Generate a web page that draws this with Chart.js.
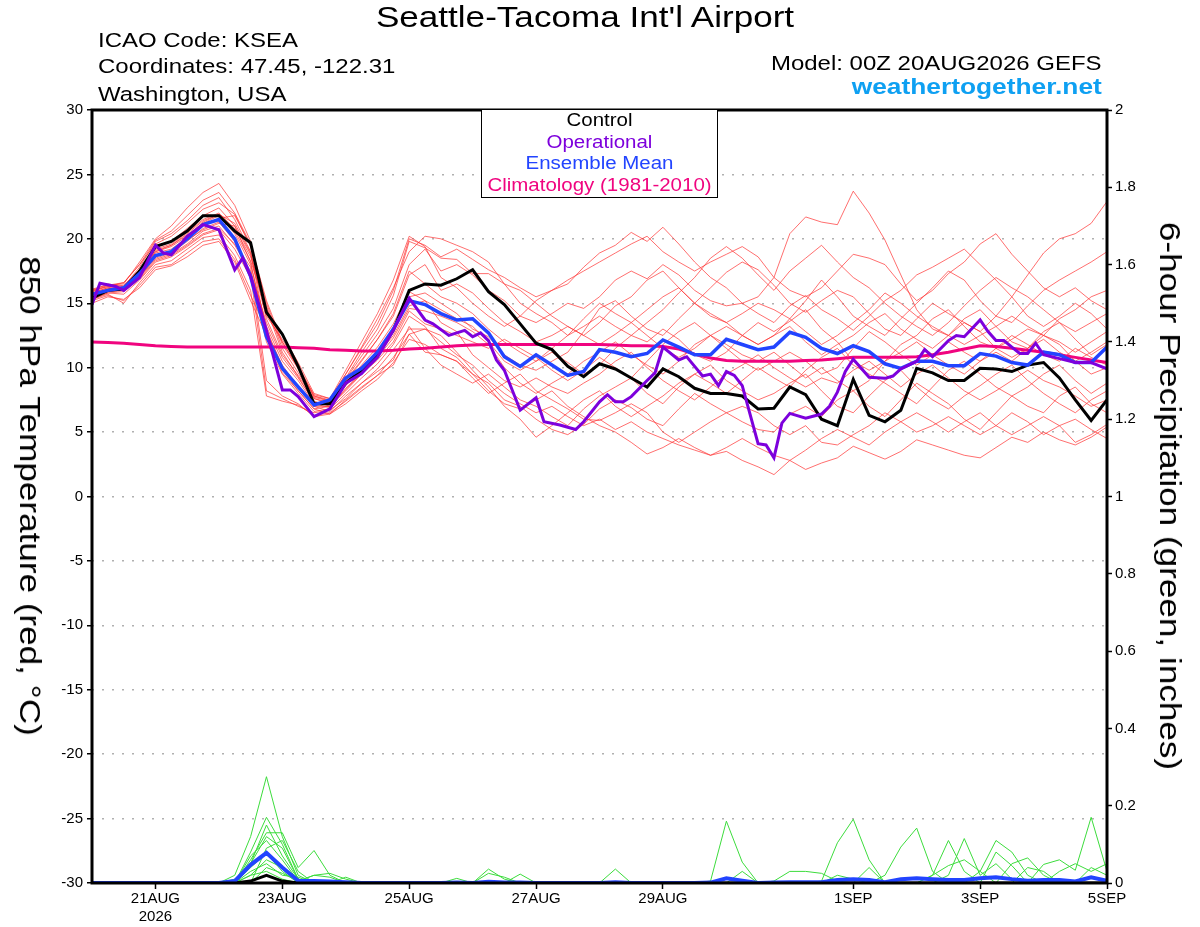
<!DOCTYPE html>
<html>
<head>
<meta charset="utf-8">
<title>Seattle-Tacoma Int'l Airport - GEFS 850 hPa Temperature</title>
<script src="https://cdn.jsdelivr.net/npm/chart.js@4.4.1/dist/chart.umd.min.js"></script>
<style>
  body { margin: 0; background: #fff; }
  #wrap { position: relative; width: 1200px; height: 927px; font-family: "Liberation Sans", Arial, Helvetica, sans-serif; color: #000; }
  #chart { position: absolute; left: 0; top: 0; }
  .txt { position: absolute; white-space: nowrap; line-height: 1; }
  #title { left: 585px; top: 3px; font-size: 29px; transform: translateX(-50%) scaleX(1.21); }
  .hl { left: 98px; font-size: 20.5px; transform-origin: 0 0; transform: scaleX(1.17); }
  .hr { right: 98px; font-size: 20.5px; transform-origin: 100% 0; transform: scaleX(1.17); }
  #site { font-size: 22.5px; font-weight: bold; color: #0ea0f2; }
  #legend { position: absolute; left: 481px; top: 109px; width: 235px; height: 87px; border: 1.5px solid #000; background: #fff; text-align: center; font-size: 17.5px; line-height: 21.7px; }
  #legend div { transform: scaleX(1.17); }
  .axt { position: absolute; white-space: nowrap; line-height: 1; font-size: 30px; transform: translate(-50%, -50%) rotate(90deg) scaleX(1.17); }
</style>
</head>
<body>
<div id="wrap">
  <canvas id="chart" width="1200" height="927"></canvas>
  <div class="txt" id="title">Seattle-Tacoma Int'l Airport</div>
  <div class="txt hl" style="top:30px">ICAO Code: KSEA</div>
  <div class="txt hl" style="top:56px">Coordinates: 47.45, -122.31</div>
  <div class="txt hl" style="top:84px">Washington, USA</div>
  <div class="txt hr" style="top:53px">Model: 00Z 20AUG2026 GEFS</div>
  <div class="txt hr" id="site" style="top:76px">weathertogether.net</div>
  <div id="legend">
    <div style="color:#000">Control</div>
    <div style="color:#7d00dc">Operational</div>
    <div style="color:#2244ff">Ensemble Mean</div>
    <div style="color:#f0047f">Climatology (1981-2010)</div>
  </div>
  <div class="axt" style="left:30px; top:496px">850 hPa Temperature (red, °C)</div>
  <div class="axt" style="left:1170px; top:496px">6-hour Precipitation (green, inches)</div>
</div>
<script>
// forecast hours (6-hourly, from 00Z 20AUG2026)
const hours = [0, 6, 12, 18, 24, 30, 36, 42, 48, 54,
  60, 66, 72, 78, 84, 90, 96, 102, 108, 114,
  120, 126, 132, 138, 144, 150, 156, 162, 168, 174,
  180, 186, 192, 198, 204, 210, 216, 222, 228, 234,
  240, 246, 252, 258, 264, 270, 276, 282, 288, 294,
  300, 306, 312, 318, 324, 330, 336, 342, 348, 354,
  360, 366, 372, 378, 384];

const tickHours = [24, 72, 120, 168, 216, 288, 336, 384];
const tickLabels = [['21AUG', '2026'], '23AUG', '25AUG', '27AUG', '29AUG', '1SEP', '3SEP', '5SEP'];

// 850 hPa temperature, C
const ctrlTemp = [15.4, 16.0, 16.1, 17.5, 19.4, 19.8, 20.6, 21.8, 21.8, 20.6,
  19.7, 14.3, 12.6, 10.1, 7.2, 7.2, 8.8, 9.8, 11.0, 12.9,
  16.0, 16.5, 16.4, 16.9, 17.6, 15.9, 14.9, 13.4, 11.9, 11.4,
  10.1, 9.3, 10.3, 9.9, 9.2, 8.5, 9.9, 9.3, 8.4, 8.0,
  8.0, 7.8, 6.8, 6.85, 8.5, 7.9, 6.0, 5.5, 9.1, 6.3,
  5.8, 6.7, 9.95, 9.6, 9.0, 9.0, 9.95, 9.9, 9.7, 10.2,
  10.4, 9.2, 7.5, 5.9, 7.5];

const meanTemp = [15.7, 16.0, 16.2, 17.3, 18.7, 19.0, 20.0, 21.1, 21.5, 20.0,
  17.1, 12.4, 9.95, 8.5, 7.1, 7.5, 9.2, 9.95, 11.2, 13.0,
  15.2, 14.9, 14.2, 13.7, 13.8, 12.7, 10.85, 10.1, 11.0, 10.2,
  9.4, 9.7, 11.4, 11.2, 10.85, 11.1, 12.15, 11.6, 11.0, 11.0,
  12.2, 11.8, 11.4, 11.6, 12.75, 12.35, 11.5, 11.1, 11.7, 11.25,
  10.3, 9.95, 10.5, 10.5, 10.15, 10.15, 11.1, 10.9, 10.4, 10.2,
  11.2, 11.0, 10.4, 10.4, 11.6];

const climoTemp = [12.0, 11.95, 11.9, 11.8, 11.7, 11.65, 11.6, 11.6, 11.6, 11.6,
  11.6, 11.6, 11.6, 11.55, 11.5, 11.4, 11.35, 11.3, 11.3, 11.35,
  11.45, 11.5, 11.6, 11.7, 11.75, 11.8, 11.8, 11.8, 11.8, 11.8,
  11.8, 11.8, 11.8, 11.75, 11.7, 11.7, 11.65, 11.45, 11.05, 10.75,
  10.55, 10.5, 10.5, 10.5, 10.5, 10.55, 10.6, 10.7, 10.8, 10.8,
  10.8, 10.8, 10.85, 11.0, 11.2, 11.45, 11.7, 11.65, 11.5, 11.35,
  11.2, 11.0, 10.8, 10.6, 10.4];

// operational run has its own (3-hourly where it bends) hours
const opHours = [0, 3, 9, 12, 18, 24, 27, 30, 36, 42, 48, 54, 57, 60, 66, 72, 75, 78, 84, 90,
  96, 102, 105, 108, 114, 120, 126, 129, 135, 141, 144, 147, 150, 153, 156, 162, 168, 171, 177, 183,
  186, 192, 195, 198, 201, 204, 210, 213, 216, 222, 225, 228, 231, 234, 237, 240, 243, 246, 252, 255,
  258, 261, 264, 270, 276, 279, 282, 285, 288, 294, 300, 303, 306, 312, 315, 318, 324, 327, 330, 336,
  339, 342, 345, 348, 351, 354, 357, 360, 366, 372, 378, 384];
const opTemp = [14.9, 16.55, 16.3, 16.0, 17.0, 19.5, 18.9, 18.75, 20.2, 21.1, 20.7, 17.6, 18.5, 17.1, 12.9, 8.27, 8.27, 7.75, 6.2, 6.8,
  8.8, 9.55, 10.2, 10.8, 12.9, 15.4, 13.7, 13.4, 12.5, 12.9, 12.4, 12.7, 12.1, 10.6, 9.8, 6.7, 7.66, 5.8, 5.55, 5.2,
  5.8, 7.35, 7.9, 7.35, 7.35, 7.75, 9.0, 9.6, 11.6, 10.6, 10.85, 10.1, 9.35, 9.5, 8.6, 9.7, 9.4, 8.6, 4.1, 4.0,
  3.0, 5.7, 6.45, 6.07, 6.4, 7.0, 8.1, 9.7, 10.65, 9.25, 9.17, 9.35, 9.9, 10.5, 11.4, 10.85, 12.1, 12.5, 12.4, 13.7,
  12.8, 12.1, 12.1, 11.6, 11.1, 11.1, 11.9, 11.0, 10.7, 10.4, 10.4, 9.9];

// ensemble members
const mem01 = [15.8, 16.2, 16.4, 17.6, 19.2, 19.6, 20.5, 21.5, 22.0, 20.8, 18.6,
  14.8, 11.5, 9.6, 7.6, 7.3, 9.1, 10.9, 12.6, 14.6, 18.0, 19.2,
  17.5, 18.0, 17.2, 16.0, 15.2, 14.0, 13.5, 14.2, 15.0, 14.6, 15.5, 16.8, 17.5, 16.9, 18.0, 17.2, 16.0, 15.2, 14.8, 15.0, 15.5,
  17.0, 20.4, 21.7, 21.3, 21.1, 23.7, 22.0, 19.9, 17.2, 14.5, 13.0, 12.5, 13.8, 14.5, 13.2, 12.0, 11.5, 12.8, 13.5, 12.2, 11.0, 11.8];
const mem02 = [15.5, 15.9, 16.0, 17.0, 18.4, 18.8, 19.6, 20.6, 21.0, 19.5, 17.5,
  13.5, 10.8, 9.2, 7.4, 7.0, 8.6, 9.9, 11.2, 13.0, 15.5, 15.8,
  15.0, 14.2, 13.0, 12.4, 11.0, 10.2, 9.8, 10.5, 11.2, 12.8, 14.6, 15.2, 14.0, 13.0, 12.5, 13.8, 15.0, 16.2, 17.4, 18.2, 17.6,
  16.4, 15.0, 14.3, 15.2, 16.0, 15.5, 14.2, 13.0, 12.5, 13.8, 15.0, 14.2, 13.5, 12.8, 14.0, 15.5, 17.2, 18.9, 20.0, 20.4, 21.2, 22.9];
const mem03 = [15.3, 15.7, 15.0, 16.6, 18.0, 18.3, 19.2, 20.1, 20.3, 18.7, 16.0,
  7.8, 7.4, 7.1, 6.3, 6.5, 7.4, 8.4, 9.4, 10.8, 12.6, 13.0,
  12.0, 11.0, 10.2, 9.0, 8.0, 7.2, 6.5, 7.0, 6.2, 5.5, 6.0, 5.2, 5.8, 5.0, 4.5, 4.0, 3.6, 3.2, 3.5, 2.8, 2.3,
  1.7, 2.8, 2.1, 2.6, 3.0, 3.9, 3.4, 2.9, 3.5, 4.4, 4.0, 3.6, 3.2, 3.0, 3.8, 4.6, 4.2, 5.0, 4.4, 4.0, 4.6, 5.4];
const mem04 = [16.0, 16.5, 16.3, 17.8, 19.8, 20.4, 21.4, 22.6, 23.2, 21.5, 19.0,
  14.0, 12.2, 10.2, 7.8, 7.5, 9.5, 11.5, 13.4, 16.0, 20.0, 19.5,
  18.6, 19.2, 18.4, 17.6, 17.0, 16.2, 15.5, 16.0, 16.8, 17.5, 18.2, 18.9, 19.6, 20.2, 19.0, 18.2, 17.5, 18.2, 18.8, 19.4, 18.6,
  17.0, 16.0, 15.5, 16.2, 17.5, 18.8, 18.5, 18.0, 16.5, 15.2, 16.0, 17.3, 18.2, 19.6, 20.4, 18.8, 17.5, 16.2, 15.5, 16.2, 15.2, 14.5];
const mem05 = [15.4, 15.8, 15.7, 16.8, 18.2, 18.6, 19.4, 20.3, 20.7, 19.2, 17.0,
  12.0, 9.5, 8.0, 6.6, 6.8, 8.0, 9.2, 10.3, 11.8, 14.0, 13.2,
  11.5, 10.8, 9.5, 8.8, 7.5, 7.0, 6.0, 5.2, 4.8, 5.6, 6.8, 7.5, 6.9, 6.0, 5.5, 6.8, 8.0, 7.2, 6.5, 5.8, 5.2,
  5.0, 6.4, 7.0, 6.2, 7.5, 8.2, 7.0, 6.2, 7.5, 8.8, 8.0, 7.2, 6.0, 5.2, 6.5, 7.8, 7.0, 6.5, 7.8, 8.5, 7.2, 6.5];
const mem06 = [15.9, 16.3, 16.2, 17.4, 19.0, 19.5, 20.3, 21.2, 21.8, 20.4, 18.0,
  13.2, 10.5, 9.0, 7.2, 6.9, 8.4, 9.6, 11.0, 12.5, 14.8, 15.2,
  14.5, 13.8, 13.2, 12.0, 10.5, 9.8, 10.5, 11.2, 10.4, 9.5, 10.2, 11.5, 12.5, 12.0, 13.0, 12.2, 11.0, 10.5, 11.2, 12.5, 13.5,
  12.8, 13.6, 14.5, 13.0, 12.0, 10.5, 9.8, 10.5, 11.8, 12.5, 13.8, 14.5, 13.2, 12.0, 11.5, 12.2, 13.0, 12.5, 11.8, 10.5, 11.2, 12.0];
const mem07 = [15.6, 16.0, 16.1, 17.2, 18.9, 19.2, 20.1, 21.0, 21.6, 21.8, 19.5,
  15.0, 11.8, 9.9, 7.8, 7.4, 9.0, 10.6, 12.2, 14.0, 17.2, 18.0,
  16.0, 16.5, 15.8, 14.6, 13.5, 12.8, 12.0, 12.5, 13.2, 12.5, 11.8, 12.6, 13.5, 14.5, 15.5, 16.2, 15.0, 14.2, 13.5, 14.2, 15.0,
  14.5, 13.8, 15.2, 16.8, 15.5, 14.0, 13.2, 12.5, 13.8, 15.0, 16.2, 17.5, 16.8, 15.2, 14.0, 13.5, 14.8, 16.0, 16.8, 17.5, 18.2, 19.0];
const mem08 = [15.2, 15.6, 15.2, 16.4, 17.8, 18.0, 18.9, 19.8, 20.0, 18.4, 15.6,
  13.0, 10.0, 8.6, 7.0, 6.6, 7.8, 8.8, 9.7, 10.6, 13.2, 11.5,
  10.2, 9.5, 8.8, 9.5, 8.5, 7.5, 7.0, 6.2, 5.5, 6.8, 7.8, 8.5, 9.2, 8.0, 7.2, 8.5, 9.5, 10.2, 9.0, 8.2, 7.5,
  8.0, 8.8, 9.5, 8.2, 7.0, 6.5, 7.8, 9.0, 9.8, 8.5, 7.5, 6.8, 7.8, 8.6, 9.5, 10.2, 9.0, 8.0, 7.2, 6.5, 7.5, 8.2];
const mem09 = [16.1, 16.4, 16.5, 18.2, 20.0, 21.0, 22.4, 23.6, 24.3, 22.6, 19.8,
  14.5, 12.5, 10.4, 8.0, 7.6, 9.8, 12.0, 14.2, 16.8, 20.2, 19.4,
  17.0, 16.2, 15.0, 14.0, 13.2, 14.0, 15.2, 16.0, 16.5, 17.8, 18.9, 19.5, 20.5, 19.8, 20.9, 19.6, 18.2, 17.0, 16.2, 15.0, 14.2,
  13.5, 14.8, 15.6, 14.5, 13.8, 12.9, 14.0, 15.2, 16.0, 17.2, 17.8, 18.5, 19.2, 18.0, 16.8, 15.5, 14.0, 13.2, 14.0, 15.0, 14.2, 13.0];
const mem10 = [15.6, 16.0, 16.2, 17.1, 18.5, 18.9, 19.8, 20.8, 21.3, 19.8, 17.2,
  8.2, 7.6, 7.0, 6.5, 6.7, 7.6, 8.8, 9.9, 11.4, 13.0, 13.0,
  12.5, 11.2, 9.8, 8.5, 7.0, 6.0, 4.6, 5.5, 6.5, 7.5, 8.2, 7.0, 6.2, 7.0, 7.8, 8.8, 9.5, 8.8, 8.0, 9.0, 10.0,
  9.2, 8.5, 9.8, 10.8, 11.5, 10.2, 9.5, 8.8, 8.0, 7.2, 8.5, 9.8, 10.5, 9.5, 8.5, 7.8, 8.5, 9.5, 10.2, 9.0, 8.0, 8.8];
const mem11 = [15.7, 16.1, 16.3, 17.5, 19.4, 19.8, 20.8, 21.8, 22.4, 21.0, 18.2,
  12.4, 9.8, 8.2, 6.8, 7.0, 8.2, 9.5, 10.6, 12.0, 14.4, 13.4,
  13.0, 12.5, 12.0, 11.5, 12.2, 11.5, 10.8, 9.8, 9.0, 9.8, 10.8, 10.0, 9.2, 10.5, 11.8, 12.8, 13.5, 12.5, 11.5, 10.5, 9.8,
  10.5, 11.2, 10.5, 9.5, 10.0, 11.5, 12.8, 12.0, 11.0, 10.2, 11.0, 12.0, 11.2, 10.5, 11.5, 12.5, 11.8, 11.0, 10.5, 11.5, 10.8, 10.2];
const mem12 = [15.0, 15.5, 15.3, 16.2, 17.6, 17.9, 18.6, 19.5, 19.8, 18.2, 15.2,
  12.5, 9.6, 8.2, 6.8, 6.4, 7.5, 8.5, 9.4, 10.2, 12.6, 11.2,
  11.0, 10.5, 9.2, 8.0, 8.8, 9.5, 8.2, 7.5, 6.8, 6.0, 5.9, 6.5, 7.2, 6.5, 5.0, 4.2, 5.0, 5.8, 6.5, 7.0, 6.5,
  5.5, 4.8, 5.5, 4.2, 4.0, 4.8, 5.5, 6.5, 5.8, 5.0, 5.5, 6.2, 5.5, 4.8, 5.5, 6.5, 5.8, 4.8, 5.5, 6.0, 5.2, 4.5];
const mem13 = [15.9, 16.4, 16.6, 18.0, 19.6, 20.2, 21.2, 22.3, 22.8, 21.9, 19.4,
  14.2, 12.0, 10.0, 7.7, 7.4, 9.2, 11.2, 13.0, 15.6, 19.8, 19.3,
  18.5, 18.4, 17.3, 17.3, 16.5, 16.0, 15.0, 14.0, 13.2, 12.5, 13.5, 14.8, 15.5, 16.8, 17.5, 16.2, 15.0, 14.0, 13.5, 12.5, 11.8,
  12.5, 13.2, 12.0, 11.0, 11.8, 12.5, 13.5, 14.2, 13.0, 12.2, 11.5, 12.5, 13.5, 12.8, 11.5, 10.8, 11.5, 12.5, 13.8, 14.5, 15.5, 16.0];
const mem14 = [15.5, 15.9, 16.0, 17.0, 18.6, 19.0, 19.9, 20.7, 21.2, 21.0, 18.8,
  13.8, 11.0, 9.4, 7.6, 7.2, 8.8, 10.2, 11.6, 13.4, 15.9, 15.2,
  13.5, 12.8, 11.0, 10.0, 9.0, 8.5, 9.2, 8.5, 8.0, 8.8, 9.5, 10.5, 11.2, 10.0, 9.0, 8.2, 7.5, 8.5, 9.5, 10.2, 11.0,
  10.0, 9.2, 8.5, 9.2, 8.8, 9.8, 10.5, 9.5, 8.5, 9.5, 10.2, 9.2, 8.2, 7.5, 8.2, 9.0, 9.8, 9.0, 8.5, 7.8, 7.0, 7.5];
const mem15 = [16.0, 16.3, 16.6, 18.0, 19.9, 20.6, 21.8, 23.0, 23.6, 22.0, 19.6,
  15.2, 12.0, 10.0, 7.9, 7.6, 9.5, 11.6, 13.8, 16.2, 19.0, 20.2,
  20.0, 19.5, 19.0, 18.2, 16.5, 15.0, 14.2, 13.5, 12.5, 13.2, 14.0, 13.2, 12.5, 13.5, 14.5, 15.8, 17.0, 18.5, 19.4, 18.5, 17.2,
  16.0, 17.5, 18.5, 19.5, 18.2, 17.0, 16.2, 15.0, 14.0, 13.2, 12.5, 13.5, 14.8, 16.0, 17.0, 16.2, 15.5, 14.5, 13.5, 12.8, 13.5, 14.2];
const mem16 = [15.3, 15.8, 15.9, 16.9, 18.3, 18.7, 19.5, 20.4, 20.8, 19.6, 17.8,
  9.0, 7.8, 7.2, 6.2, 6.4, 7.2, 8.2, 9.1, 10.4, 12.2, 11.8,
  11.0, 10.5, 9.5, 8.2, 7.2, 6.8, 7.5, 8.2, 7.0, 6.2, 5.5, 5.0, 4.2, 3.3, 3.8, 4.5, 3.8, 3.2, 3.8, 4.5, 3.8,
  3.2, 2.8, 3.6, 4.5, 5.2, 4.6, 4.0, 5.0, 5.8, 6.5, 5.8, 5.0, 5.8, 6.5, 5.5, 4.8, 5.5, 6.2, 5.5, 4.2, 4.8, 5.6];
const mem17 = [15.8, 16.2, 16.0, 17.3, 19.0, 19.4, 20.2, 21.3, 21.9, 20.6, 18.3,
  14.6, 11.2, 9.3, 7.3, 7.1, 8.9, 10.5, 12.2, 14.2, 17.5, 16.5,
  15.5, 15.0, 14.2, 13.0, 12.0, 11.2, 10.5, 11.5, 12.5, 13.8, 15.0, 14.2, 13.5, 12.5, 11.5, 10.8, 11.5, 12.5, 13.2, 12.5, 11.8,
  12.5, 13.8, 12.8, 11.8, 12.5, 13.5, 14.5, 15.8, 15.0, 14.0, 13.2, 12.5, 11.8, 12.5, 13.2, 14.0, 13.2, 12.5, 12.0, 11.2, 12.0, 12.8];
const mem18 = [15.7, 16.1, 16.2, 17.3, 19.1, 19.5, 20.4, 21.4, 21.9, 21.2, 18.9,
  12.8, 10.2, 8.5, 7.0, 7.0, 8.3, 9.6, 10.8, 12.3, 14.6, 14.4,
  14.0, 13.5, 12.8, 11.8, 10.0, 8.8, 8.0, 8.8, 9.5, 10.5, 11.2, 12.0, 11.0, 10.2, 9.5, 10.5, 11.8, 12.5, 11.8, 11.0, 10.5,
  11.2, 10.2, 9.2, 10.0, 9.0, 8.2, 9.0, 10.5, 11.2, 12.0, 11.0, 10.2, 9.5, 10.5, 11.2, 10.5, 11.5, 12.2, 11.2, 10.5, 9.5, 10.0];
const memberTemps = [mem01, mem02, mem03, mem04, mem05, mem06, mem07, mem08, mem09,
  mem10, mem11, mem12, mem13, mem14, mem15, mem16, mem17, mem18];

// 6-hour precipitation, inches
const meanPrecip = [0, 0, 0, 0, 0, 0, 0, 0, 0, 0.005,
  0.047, 0.078, 0.04, 0.006, 0.005, 0.004, 0.002, 0, 0, 0,
  0, 0, 0, 0.001, 0, 0.003, 0.001, 0.001, 0, 0,
  0, 0, 0, 0.002, 0, 0, 0, 0, 0, 0.001,
  0.012, 0.006, 0, 0.001, 0.002, 0.002, 0.002, 0.008, 0.01, 0.008,
  0.002, 0.01, 0.012, 0.01, 0.008, 0.008, 0.012, 0.015, 0.01, 0.006,
  0.008, 0.008, 0.004, 0.015, 0.006];
const ctrlPrecip = [0, 0, 0, 0, 0, 0, 0, 0, 0, 0,
  0.005, 0.02, 0.005, 0, 0, 0, 0, 0, 0, 0,
  0, 0, 0, 0, 0, 0, 0, 0, 0, 0,
  0, 0, 0, 0, 0, 0, 0, 0, 0, 0,
  0, 0, 0, 0, 0, 0, 0, 0, 0, 0,
  0, 0, 0, 0, 0, 0, 0, 0, 0, 0,
  0, 0, 0, 0, 0];
const pcp01 = [0, 0, 0, 0, 0, 0, 0, 0, 0, 0.02,
  0.12, 0.275, 0.12, 0.02, 0, 0, 0, 0, 0, 0,
  0, 0, 0, 0, 0, 0, 0, 0, 0, 0,
  0, 0, 0, 0, 0, 0, 0, 0, 0, 0.005,
  0.16, 0.054, 0, 0, 0, 0, 0, 0, 0, 0,
  0, 0, 0, 0, 0, 0, 0, 0, 0, 0,
  0, 0, 0, 0, 0];
const pcp02 = [0, 0, 0, 0, 0, 0, 0, 0, 0, 0,
  0.08, 0.17, 0.10, 0.01, 0, 0, 0, 0, 0, 0,
  0, 0, 0, 0, 0, 0, 0, 0, 0, 0,
  0, 0, 0, 0, 0, 0, 0, 0, 0, 0,
  0, 0, 0, 0, 0, 0, 0.005, 0.104, 0.165, 0.06,
  0, 0, 0, 0, 0, 0, 0, 0, 0, 0,
  0, 0, 0, 0, 0];
const pcp03 = [0, 0, 0, 0, 0, 0, 0, 0, 0, 0,
  0.06, 0.13, 0.13, 0.04, 0.084, 0.02, 0, 0, 0, 0,
  0, 0, 0, 0, 0, 0, 0, 0, 0, 0,
  0, 0, 0, 0, 0, 0, 0, 0, 0, 0,
  0, 0, 0, 0, 0, 0, 0, 0, 0, 0,
  0.02, 0.093, 0.142, 0.03, 0, 0, 0, 0, 0, 0,
  0, 0, 0, 0, 0];
const pcp04 = [0, 0, 0, 0, 0, 0, 0, 0, 0, 0.01,
  0.05, 0.12, 0.09, 0.01, 0, 0, 0, 0, 0, 0,
  0, 0, 0, 0, 0, 0, 0, 0, 0, 0,
  0, 0, 0, 0, 0, 0, 0, 0, 0, 0,
  0, 0, 0, 0, 0, 0, 0, 0, 0, 0,
  0, 0, 0, 0.02, 0.11, 0.03, 0, 0, 0, 0,
  0, 0, 0, 0, 0];
const pcp05 = [0, 0, 0, 0, 0, 0, 0, 0, 0, 0,
  0.07, 0.11, 0.06, 0.005, 0.02, 0.025, 0.01, 0, 0, 0,
  0, 0, 0, 0, 0, 0, 0, 0, 0, 0,
  0, 0, 0, 0, 0, 0, 0, 0, 0, 0,
  0, 0, 0, 0, 0, 0, 0, 0, 0, 0,
  0, 0, 0, 0, 0.02, 0.115, 0.02, 0.05, 0.01, 0,
  0, 0, 0, 0, 0];
const pcp06 = [0, 0, 0, 0, 0, 0, 0, 0, 0, 0,
  0.04, 0.077, 0.03, 0, 0, 0, 0, 0, 0, 0,
  0, 0, 0, 0, 0, 0, 0, 0, 0, 0,
  0, 0, 0, 0, 0, 0, 0, 0, 0, 0,
  0, 0, 0, 0, 0, 0, 0, 0, 0, 0,
  0, 0, 0, 0, 0, 0, 0.03, 0.11, 0.08, 0.02,
  0, 0, 0, 0, 0];
const pcp07 = [0, 0, 0, 0, 0, 0, 0, 0, 0, 0,
  0.03, 0.05, 0.02, 0.015, 0, 0, 0, 0, 0, 0,
  0, 0, 0, 0, 0, 0.036, 0.01, 0, 0, 0,
  0, 0, 0, 0, 0, 0, 0, 0, 0, 0,
  0, 0, 0, 0, 0, 0, 0, 0, 0, 0,
  0, 0, 0, 0, 0, 0, 0, 0, 0.05, 0.065,
  0.02, 0, 0, 0, 0];
const pcp08 = [0, 0, 0, 0, 0, 0, 0, 0, 0, 0,
  0, 0.04, 0.025, 0.005, 0.02, 0.015, 0, 0, 0, 0,
  0, 0, 0, 0, 0, 0, 0, 0.023, 0, 0,
  0, 0, 0, 0, 0, 0, 0, 0, 0, 0,
  0, 0, 0, 0, 0, 0, 0, 0, 0, 0,
  0, 0, 0, 0, 0, 0, 0, 0, 0, 0,
  0.048, 0.06, 0.033, 0.17, 0.03];
const pcp09 = [0, 0, 0, 0, 0, 0, 0, 0, 0, 0,
  0.02, 0.03, 0.01, 0, 0, 0, 0, 0, 0, 0,
  0, 0, 0, 0, 0, 0, 0, 0, 0, 0,
  0, 0, 0, 0.036, 0, 0, 0, 0, 0, 0,
  0, 0.03, 0, 0.005, 0.03, 0.03, 0.025, 0.005, 0, 0,
  0, 0, 0, 0, 0, 0, 0, 0, 0, 0,
  0, 0, 0, 0, 0];
const pcp10 = [0, 0, 0, 0, 0, 0, 0, 0, 0, 0,
  0, 0.09, 0.11, 0.03, 0, 0, 0, 0, 0, 0,
  0, 0, 0, 0.012, 0, 0.025, 0.015, 0, 0, 0,
  0, 0, 0, 0, 0, 0, 0, 0, 0, 0,
  0, 0, 0, 0, 0, 0, 0, 0, 0, 0.04,
  0, 0, 0, 0.02, 0.045, 0.06, 0.03, 0, 0, 0,
  0, 0, 0, 0, 0];
const pcp11 = [0, 0, 0, 0, 0, 0, 0, 0, 0, 0,
  0.05, 0.15, 0.07, 0.01, 0, 0, 0, 0, 0, 0,
  0, 0, 0, 0, 0, 0, 0, 0, 0, 0,
  0, 0, 0, 0, 0, 0, 0, 0, 0, 0,
  0, 0, 0, 0, 0, 0, 0, 0, 0, 0,
  0, 0, 0, 0, 0, 0, 0, 0.08, 0.045, 0,
  0, 0.03, 0.05, 0.03, 0.05];
const pcp12 = [0, 0, 0, 0, 0, 0, 0, 0, 0, 0,
  0.02, 0.06, 0.04, 0.01, 0, 0, 0.015, 0, 0, 0,
  0, 0, 0, 0, 0, 0, 0, 0, 0, 0,
  0, 0, 0, 0, 0, 0, 0, 0, 0, 0,
  0, 0, 0, 0, 0, 0, 0, 0.02, 0.01, 0,
  0, 0, 0, 0, 0, 0, 0, 0, 0, 0.04,
  0.03, 0, 0, 0.04, 0.02];
const memberPrecip = [pcp01, pcp02, pcp03, pcp04, pcp05, pcp06, pcp07, pcp08, pcp09, pcp10, pcp11, pcp12];

const FONT = '"Liberation Sans", Arial, Helvetica, sans-serif';
Chart.defaults.font.family = FONT;
Chart.defaults.color = '#000';

function pts(xs, ys) {
    return ys.map((v, i) => ({ x: xs[i], y: v }));
}

let datasets = [];
datasets.push({ label: 'Operational', data: pts(opHours, opTemp), borderColor: '#7d00dc', borderWidth: 3, yAxisID: 'y', order: 0 });
datasets.push({ label: 'Ensemble Mean', data: pts(hours, meanTemp), borderColor: '#2244ff', borderWidth: 3.5, yAxisID: 'y', order: 1 });
datasets.push({ label: 'Control', data: pts(hours, ctrlTemp), borderColor: '#000000', borderWidth: 3, yAxisID: 'y', order: 2 });
datasets.push({ label: 'Climatology', data: pts(hours, climoTemp), borderColor: '#f0047f', borderWidth: 3, yAxisID: 'y', order: 3 });
datasets.push({ label: 'Mean precip', data: pts(hours, meanPrecip), borderColor: '#2244ff', borderWidth: 4, yAxisID: 'y1', order: 4 });
datasets.push({ label: 'Control precip', data: pts(hours, ctrlPrecip), borderColor: '#000000', borderWidth: 3, yAxisID: 'y1', order: 5 });
for (let i = 0; i < memberPrecip.length; i++) {
    datasets.push({ label: 'pcp' + (i + 1), data: pts(hours, memberPrecip[i]), borderColor: 'rgb(60,220,60)', borderWidth: 1, yAxisID: 'y1', order: 6 });
}
for (let i = 0; i < memberTemps.length; i++) {
    datasets.push({ label: 'mem' + (i + 1), data: pts(hours, memberTemps[i]), borderColor: 'rgba(255,50,50,0.7)', borderWidth: 1, yAxisID: 'y', order: 7 });
}

const framePlugin = {
    id: 'frame',
    afterDatasetsDraw(chart) {
        const a = chart.chartArea;
        const c = chart.ctx;
        c.save();
        c.strokeStyle = '#000';
        c.lineWidth = 3;
        c.strokeRect(a.left, a.top, a.right - a.left, a.bottom - a.top);
        c.restore();
    }
};

const tickFont = { family: FONT, size: 15 };

new Chart(document.getElementById('chart').getContext('2d'), {
    type: 'line',
    data: { datasets: datasets },
    plugins: [framePlugin],
    options: {
        responsive: false,
        animation: false,
        devicePixelRatio: 1,
        layout: { padding: { top: 110, left: 0, right: 0, bottom: 0 } },
        elements: { point: { radius: 0 }, line: { tension: 0, fill: false } },
        plugins: { legend: { display: false }, tooltip: { enabled: false } },
        scales: {
            x: {
                type: 'linear', min: 0, max: 384,
                afterBuildTicks: (s) => { s.ticks = tickHours.map(v => ({ value: v })); },
                afterFit: (s) => { s.height = 44; },
                ticks: {
                    autoSkip: false, maxRotation: 0, color: '#000', font: tickFont, padding: 1,
                    callback: (v) => tickLabels[tickHours.indexOf(v)]
                },
                grid: { drawOnChartArea: false, tickLength: 6, tickColor: '#000', tickWidth: 1.5 },
                border: { display: false }
            },
            y: {
                position: 'left', min: -30, max: 30,
                afterFit: (s) => { s.width = 92; },
                ticks: { stepSize: 5, color: '#000', font: tickFont, padding: 4 },
                grid: { color: '#b0b0b0', lineWidth: 1.5, tickColor: '#000', tickLength: 5, tickWidth: 1.5 },
                border: { display: false, dash: [2, 8] }
            },
            y1: {
                position: 'right', min: 0, max: 2,
                afterFit: (s) => { s.width = 93; },
                ticks: { stepSize: 0.2, color: '#000', font: tickFont, padding: 3,
                    callback: (v) => String(Math.round(v * 10) / 10) },
                grid: { drawOnChartArea: false, tickColor: '#000', tickLength: 5, tickWidth: 1.5 },
                border: { display: false }
            }
        }
    }
});
</script>
</body>
</html>
